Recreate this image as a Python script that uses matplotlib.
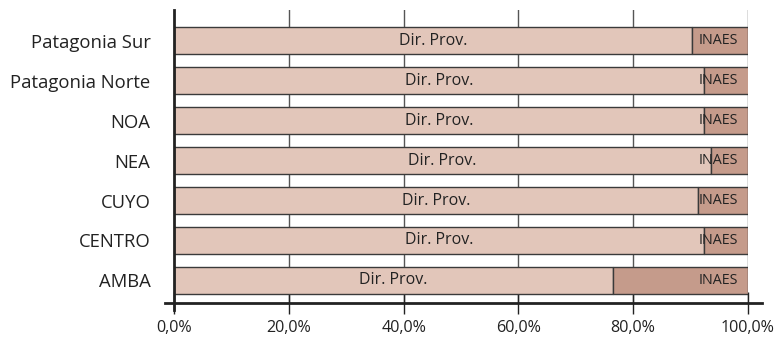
import numpy as np
import matplotlib.pyplot as plt

# Datos por región (porcentaje de la asistencia)
regiones = ['AMBA', 'CENTRO', 'CUYO', 'NEA', 'NOA', 'Patagonia Norte', 'Patagonia Sur']
dir_prov = [76.5, 92.4, 91.3, 93.6, 92.4, 92.4, 90.3]
inaes = [23.5, 7.6, 8.7, 6.4, 7.6, 7.9, 9.7]
ticks_x = [0, 20, 40, 60, 80, 100]
etiquetas_x = ['0,0%', '20,0%', '40,0%', '60,0%', '80,0%', '100,0%']

plt.rcParams['font.family'] = ['Open Sans', 'DejaVu Sans']

fig = plt.figure(figsize=(7.78, 3.44), dpi=100)
ax = fig.add_axes([0.2237, 0.1192, 0.7377, 0.8517])

y = np.arange(len(regiones))
color_dir = '#e2c6ba'
color_inaes = '#c59b8b'
borde = '#3a3a3a'

# Líneas de grilla verticales
for t in ticks_x[1:]:
    ax.axvline(t, color='#555555', lw=1, zorder=0)

ax.barh(y, dir_prov, height=0.69, color=color_dir, edgecolor=borde, linewidth=1, zorder=2)
ax.barh(y, inaes, left=dir_prov, height=0.69, color=color_inaes, edgecolor=borde, linewidth=1, zorder=2)

for i in range(len(regiones)):
    ax.text(dir_prov[i] / 2, y[i], 'Dir. Prov.', ha='center', va='center', fontsize=11.5, color='#222222', zorder=3)
    ax.text(94.8, y[i], 'INAES', ha='center', va='center', fontsize=10.3, color='#222222', zorder=3)

ax.set_xlim(0, 100)
ax.set_ylim(-0.5625, 6.7625)
ax.set_yticks(y)
ax.set_yticklabels(regiones, fontsize=13.3, color='#222222')
ax.set_xticks(ticks_x)
ax.set_xticklabels(etiquetas_x, fontsize=11.6, color='#222222')
ax.tick_params(axis='y', length=0, pad=17)
ax.tick_params(axis='x', direction='inout', length=16, width=1, color='#222222', pad=4)

for s in ax.spines.values():
    s.set_visible(False)

# Ejes dibujados a mano (se extienden fuera del área)
ax.plot([-1.6, 102.4], [-0.5625, -0.5625], color='#222222', lw=2, clip_on=False, zorder=4)
ax.plot([0, 0], [-0.75, 6.7625], color='#222222', lw=2, clip_on=False, zorder=4)

fig.savefig('out.png', dpi=100)
